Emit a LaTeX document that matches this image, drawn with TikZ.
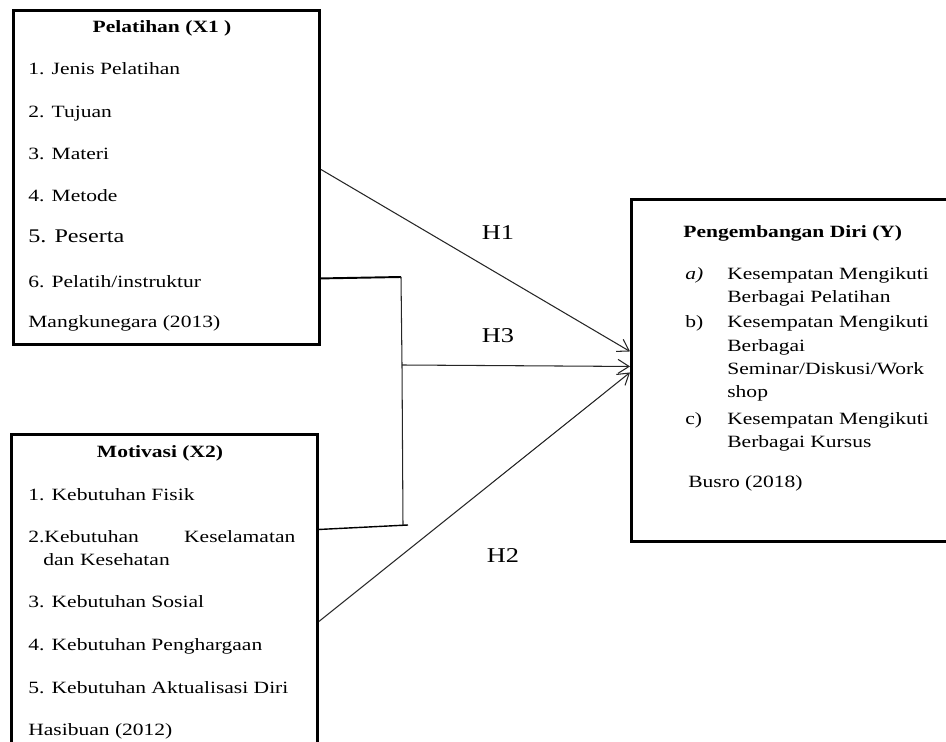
\documentclass[tikz,border=0pt]{standalone}
\usepackage{fontspec}
\setmainfont{Liberation Serif}[FakeStretch=1.25]
\usetikzlibrary{arrows.meta,positioning}

\begin{document}
\begin{tikzpicture}[
  x=0.02cm, y=-0.02cm,
  box/.style={rectangle,draw=black,line width=1.7pt,inner sep=0pt},
  txt/.style={anchor=base west,inner sep=0pt,align=left,
              font=\fontsize{9.8}{13.3}\selectfont},
  ttl/.style={anchor=base,inner sep=0pt,font=\fontsize{9.8}{12}\selectfont\bfseries},
  hyp/.style={inner sep=0pt,font=\fontsize{12}{14}\selectfont},
  arr/.style={-{Straight Barb[length=2.2mm,width=2.8mm]},line width=0.6pt,draw=black!85},
  link/.style={line width=0.6pt,draw=black!85}
]
  \useasboundingbox (0,0) rectangle (946,742);

  \node[box,anchor=north west,minimum width=6.12cm,minimum height=6.68cm] (pel) at (12,9) {};
  \node[box,anchor=north west,minimum width=6.12cm,minimum height=6.54cm] (mot) at (10,433) {};
  \node[box,anchor=north west,minimum width=6.6cm,minimum height=6.84cm] (peng) at (630,198) {};

  \node[ttl] (pelttl) at (162,33) {Pelatihan (X1 )};
  \node[txt] (pel1) at (28,75) {1. Jenis Pelatihan};
  \node[txt] (pel2) at (28,118) {2. Tujuan};
  \node[txt] (pel3) at (28,160) {3. Materi};
  \node[txt] (pel4) at (28,202) {4. Metode};
  \node[txt,font=\fontsize{11}{13}\selectfont] (pel5) at (28,243) {5. Peserta};
  \node[txt] (pel6) at (28,288) {6. Pelatih/instruktur};
  \node[txt] (pelsrc) at (28,328) {Mangkunegara (2013)};

  \node[ttl] (motttl) at (160,458) {Motivasi (X2)};
  \node[txt] (mot1) at (28,501) {1. Kebutuhan Fisik};
  \node[txt,text width=5.34cm] (mot2) at (28,542)
    {2.Kebutuhan\hfill Keselamatan\\\hspace*{0.3cm}dan Kesehatan};
  \node[txt] (mot3) at (28,607) {3. Kebutuhan Sosial};
  \node[txt] (mot4) at (28,650) {4. Kebutuhan Penghargaan};
  \node[txt] (mot5) at (28,693) {5. Kebutuhan Aktualisasi Diri};
  \node[txt] (motsrc) at (28,735) {Hasibuan (2012)};

  \node[ttl,anchor=base west] (pengttl) at (683,238) {Pengembangan Diri (Y)};
  \node[txt] (la) at (685,280) {\textit{a)}};
  \node[txt] (ia) at (727,303) {Kesempatan Mengikuti\\Berbagai Pelatihan};
  \node[txt] (lb) at (685,328) {b)};
  \node[txt] (ib) at (727,398) {Kesempatan Mengikuti\\Berbagai\\Seminar/Diskusi/Work\\shop};
  \node[txt] (lc) at (685,425) {c)};
  \node[txt] (ic) at (727,448) {Kesempatan Mengikuti\\Berbagai Kursus};
  \node[txt] (pengsrc) at (688,488) {Busro (2018)};

  \coordinate (brtop) at (401,277);
  \coordinate (join) at (402,365);
  \coordinate (brbot) at (403,526);
  \coordinate (brend) at (408,525);

  \draw[arr] ([yshift=0.16cm]pel.east) -- ([yshift=0.38cm]peng.west);
  \draw[arr] (join) -- ([yshift=0.08cm]peng.west);
  \draw[arr] ([yshift=-0.47cm]mot.east) -- ([yshift=-0.04cm]peng.west);

  \draw[line width=1.1pt] ([yshift=-2.02cm]pel.east) -- (brtop);
  \draw[link] (brtop) -- (join) -- (brbot);
  \draw[line width=0.8pt] ([yshift=1.37cm]mot.east) -- (brend);

  \node[hyp] (h1) at (498,233) {H1};
  \node[hyp] (h3) at (498,336) {H3};
  \node[hyp] (h2) at (503,556) {H2};
\end{tikzpicture}
\end{document}
